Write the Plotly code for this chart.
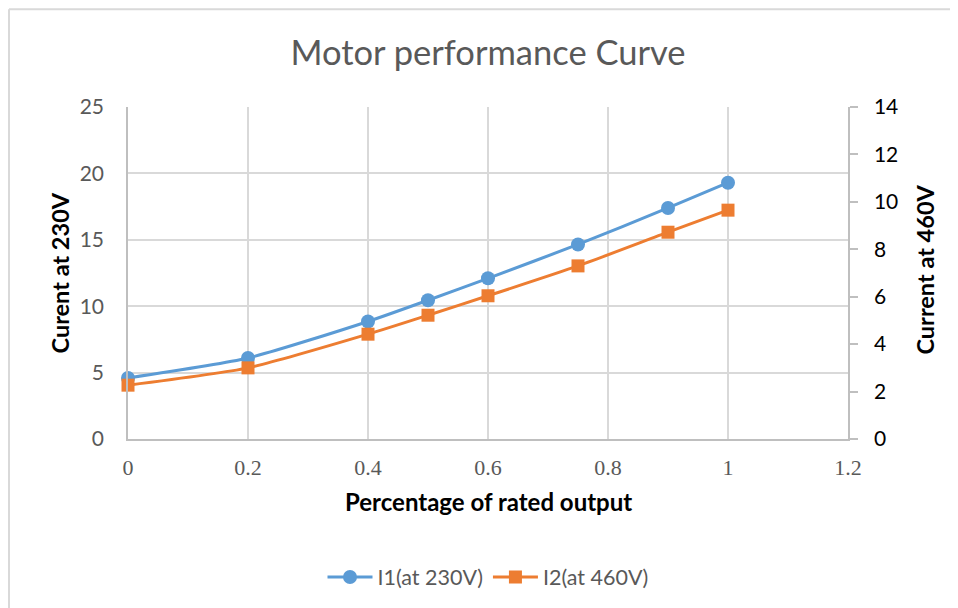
import plotly.graph_objects as go

x_vals = [0, 0.2, 0.4, 0.5, 0.6, 0.75, 0.9, 1.0]
i1_230v = [4.6, 6.1, 8.85, 10.45, 12.1, 14.65, 17.4, 19.3]
i2_460v = [2.27, 3.0, 4.42, 5.22, 6.04, 7.3, 8.72, 9.65]
series_names = ["I1(at 230V)", "I2(at 460V)"]
x_ticks = [0, 0.2, 0.4, 0.6, 0.8, 1, 1.2]
y1_ticks = [0, 5, 10, 15, 20, 25]
y2_ticks = [0, 2, 4, 6, 8, 10, 12, 14]

BLUE = "#5B9BD5"
ORANGE = "#ED7D31"
GRID = "#D9D9D9"
AXIS = "#BFBFBF"
FONT = "Lato, 'Open Sans', sans-serif"

fig = go.Figure()
fig.add_trace(go.Scatter(
    x=x_vals, y=i1_230v, name=series_names[0], mode="lines+markers",
    line=dict(color=BLUE, width=3, shape="spline", smoothing=0.6),
    marker=dict(symbol="circle", size=14, color=BLUE),
    cliponaxis=False, yaxis="y"))
fig.add_trace(go.Scatter(
    x=x_vals, y=i2_460v, name=series_names[1], mode="lines+markers",
    line=dict(color=ORANGE, width=3, shape="spline", smoothing=0.6),
    marker=dict(symbol="square", size=13, color=ORANGE),
    cliponaxis=False, yaxis="y2"))

# page body has an 8px margin, so the figure is laid out 8px smaller
W, H = 950, 600
L, R, T, B = 120, 110, 99, 168
pw, ph = W - L - R, H - T - B

def px(xf):
    return (xf - L) / pw

def py(yf):
    return (H - B - yf) / ph

fig.update_layout(
    width=W, height=H,
    margin=dict(l=L, r=R, t=T, b=B, pad=0),
    paper_bgcolor="white", plot_bgcolor="white",
    font=dict(family=FONT, color="#595959"),
    title=dict(text="Motor performance Curve", xref="paper", x=0.5, xanchor="center",
               y=1 - 45 / H, yanchor="middle",
               font=dict(family=FONT, size=34.5, color="#595959")),
    xaxis=dict(range=[0, 1.2], tickvals=x_ticks, showgrid=True, gridcolor=GRID, gridwidth=1.5,
               showline=True, linecolor=AXIS, linewidth=1.5, zeroline=False,
               ticks="", ticklabelstandoff=8,
               tickfont=dict(family="'Liberation Serif', serif", size=22, color="#595959")),
    yaxis=dict(range=[0, 25], tickvals=y1_ticks, showgrid=True, gridcolor=GRID, gridwidth=1.5,
               showline=True, linecolor=AXIS, linewidth=1.5, zeroline=False, ticks="",
               ticklabelstandoff=18,
               tickfont=dict(family=FONT, size=21, color="#595959")),
    yaxis2=dict(range=[0, 14], tickvals=y2_ticks, overlaying="y", side="right",
                showgrid=False, showline=True, linecolor=AXIS, linewidth=1.5, zeroline=False,
                ticks="outside", ticklen=8, tickcolor=AXIS, tickwidth=1.5,
                ticklabelstandoff=12,
                tickfont=dict(family=FONT, size=21, color="black")),
    legend=dict(orientation="h", x=0.5, xanchor="center", y=py(569), yanchor="middle",
                font=dict(family=FONT, size=21.5, color="#595959"),
                itemwidth=45, bgcolor="rgba(0,0,0,0)"),
    showlegend=True,
)

# axis titles
fig.add_annotation(text="<b>Percentage of rated output</b>", xref="paper", yref="paper",
                   x=0.5, y=py(495), xanchor="center", yanchor="middle", showarrow=False,
                   font=dict(family=FONT, size=24, color="black"))
fig.add_annotation(text="<b>Curent at 230V</b>", xref="paper", yref="paper",
                   x=px(52), y=py(266), xanchor="center", yanchor="middle", showarrow=False,
                   textangle=-90, font=dict(family=FONT, size=23.5, color="black"))
fig.add_annotation(text="<b>Current at 460V</b>", xref="paper", yref="paper",
                   x=px(917), y=py(262), xanchor="center", yanchor="middle", showarrow=False,
                   textangle=-90, font=dict(family=FONT, size=23.5, color="black"))

# outer chart border (left and top edges visible)
fig.add_shape(type="line", xref="paper", yref="paper",
              x0=px(1), x1=px(1), y0=py(1), y1=py(H + 5),
              line=dict(color=GRID, width=2))
fig.add_shape(type="line", xref="paper", yref="paper",
              x0=px(1), x1=px(W + 5), y0=py(1), y1=py(1),
              line=dict(color=GRID, width=2))

fig.write_html("out.html")
